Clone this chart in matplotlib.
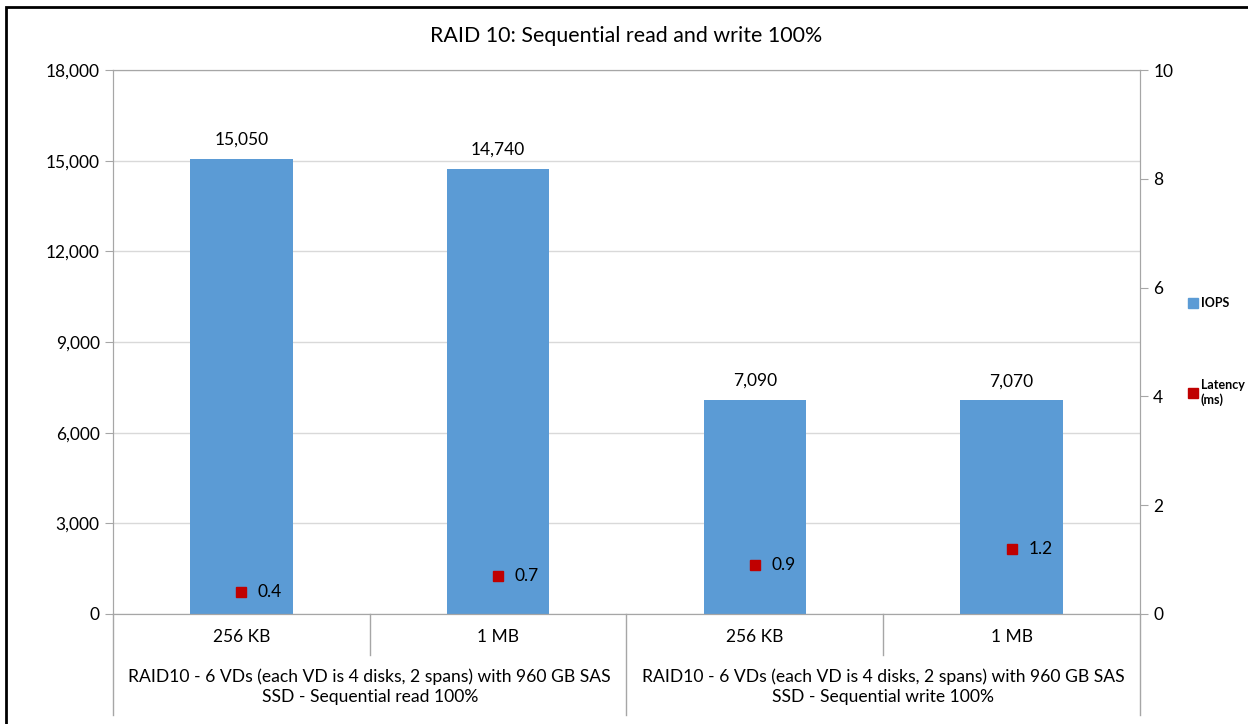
import numpy as np
import matplotlib.pyplot as plt
from matplotlib.patches import Rectangle
from matplotlib.lines import Line2D

plt.rcParams['font.family'] = ['Lato', 'DejaVu Sans']

# data
block_sizes = ["256 KB", "1 MB", "256 KB", "1 MB"]
groups = ["RAID10 - 6 VDs (each VD is 4 disks, 2 spans) with 960 GB SAS\nSSD - Sequential read 100%",
          "RAID10 - 6 VDs (each VD is 4 disks, 2 spans) with 960 GB SAS\nSSD - Sequential write 100%"]
iops = [15050, 14740, 7090, 7070]
latency = [0.4, 0.7, 0.9, 1.2]

bar_color = "#5B9BD5"
lat_color = "#C00000"
axis_color = "#A6A6A6"

fig = plt.figure(figsize=(12.48, 7.24), dpi=100)
ax = fig.add_axes([0.0905, 0.152, 0.823, 0.7513])
x = np.arange(len(iops))

ax.bar(x, iops, width=0.4, color=bar_color, zorder=2)
ax.set_xlim(-0.5, 3.5)
ax.set_ylim(0, 18000)
ax.set_yticks(np.arange(0, 18001, 3000))
ax.set_yticklabels([f"{v:,}" for v in range(0, 18001, 3000)], fontsize=12.5)
ax.grid(axis="y", color="#D9D9D9", linewidth=1, zorder=0)
ax.set_xticks([])
for s in ax.spines.values():
    s.set_color(axis_color)
ax.tick_params(axis="y", color=axis_color, length=6)

for xi, v in zip(x, iops):
    ax.annotate(f"{v:,}", (xi, v), xytext=(0, 8), textcoords="offset points",
                ha="center", va="bottom", fontsize=12.5)

ax2 = ax.twinx()
ax2.set_ylim(0, 10)
ax2.set_yticks(range(0, 11, 2))
ax2.tick_params(axis="y", labelsize=12.5, color=axis_color, length=6)
for s in ax2.spines.values():
    s.set_color(axis_color)
ax2.plot(x, latency, linestyle="none", marker="s", markersize=7,
         color=lat_color, zorder=3)
for xi, v in zip(x, latency):
    ax2.annotate(f"{v}", (xi, v), xytext=(12, 0), textcoords="offset points",
                 ha="left", va="center", fontsize=12.5)

# two-level category axis
tr = ax.get_xaxis_transform()
for b in [-0.5, 1.5, 3.5]:
    ax.add_line(Line2D([b, b], [0, -0.186], transform=tr, color=axis_color,
                       lw=1, clip_on=False))
for b in [0.5, 2.5]:
    ax.add_line(Line2D([b, b], [0, -0.076], transform=tr, color=axis_color,
                       lw=1, clip_on=False))
for xi, lab in zip(x, block_sizes):
    ax.text(xi, -0.042, lab, transform=tr, ha="center", va="center", fontsize=12.5)
for gi, lab in enumerate(groups):
    ax.text(gi * 2 + 0.5, -0.134, lab, transform=tr, ha="center", va="center",
            fontsize=12.6, linespacing=1.25)

ax.set_title("RAID 10: Sequential read and write 100%", fontsize=15.4, pad=20)

handles = [Line2D([], [], linestyle="none", marker="s", markersize=7, color=bar_color),
           Line2D([], [], linestyle="none", marker="s", markersize=7, color=lat_color)]
fig.legend(handles, ["IOPS", "Latency\n(ms)"], loc="upper left",
           bbox_to_anchor=(0.944, 0.605), frameon=False, handlelength=0.6,
           handletextpad=0.3, labelspacing=5.6, prop={"size": 9, "weight": "bold"})

fig.add_artist(Rectangle((0.005, -0.01), 1.0, 1.0, transform=fig.transFigure,
                         fill=False, edgecolor="black", lw=2))

fig.savefig("out.png", dpi=100)
